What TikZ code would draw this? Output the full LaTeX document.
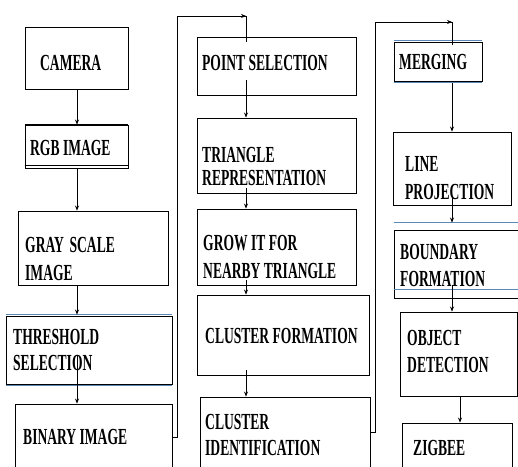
\documentclass[tikz,border=0pt]{standalone}
\usepackage{fontspec}
\newfontfamily\lblfont{Liberation Serif}[FakeStretch=0.59]
\usetikzlibrary{arrows.meta,calc}
\definecolor{lineblue}{HTML}{5B86B8}
\newcommand{\mybox}[5]{\node[boxst, minimum width={#4-#2}, minimum height={#5-#3}] (#1) at ({(#2+#4)/2},{(#3+#5)/2}) {};}
\begin{document}
\begin{tikzpicture}[x=1pt,y=-1pt,
  boxst/.style={draw=black, line width=0.9pt, inner sep=0pt, rectangle},
  txt/.style={anchor=north west, inner sep=0pt, align=left, font=\lblfont\bfseries\fontsize{23}{27}\selectfont},
  arr/.style={draw=black, line width=0.7pt, -{Stealth[length=5pt,width=4pt]}},
  ln/.style={draw=black, line width=0.7pt},
  blue/.style={draw=lineblue, line width=1.2pt}]
\useasboundingbox (0,0) rectangle (518,466);
\clip (0,0) rectangle (518,466);
% column 1
\mybox{camera}{25}{27}{128}{89}
\mybox{rgb}{25}{125}{128}{168}
\mybox{gray}{18}{211}{168}{285}
\mybox{thresh}{6}{316}{172}{384}
\mybox{binary}{15}{404}{172}{470}
% column 2
\mybox{pointsel}{197}{37}{356}{95}
\mybox{triangle}{197}{118}{356}{193}
\mybox{grow}{197}{209}{356}{285}
\mybox{clform}{197}{295}{369}{375}
\mybox{clid}{200}{397}{370}{467}
% column 3
\mybox{merging}{394}{42}{482}{81}
\mybox{lineproj}{393}{132}{511}{205}
\mybox{boundary}{394}{230}{522}{298}
\mybox{objdet}{400}{312}{517}{396}
\mybox{zigbee}{402}{423}{512}{480}
% decorations of box borders
\draw[line width=2pt] (rgb.north west) -- (rgb.north east);
\draw[ln] ($(rgb.south west)+(0,-3)$) -- ($(rgb.south east)+(0,-3)$);
\draw[blue] ($(thresh.north west)+(0,-1.2)$) -- ($(thresh.north east)+(0,-1.2)$);
\draw[blue] ($(thresh.south west)+(0,1.2)$) -- ($(thresh.south east)+(0,1.2)$);
\draw[blue] ($(merging.north west)+(0,-1.2)$) -- ($(merging.north east)+(0,-1.2)$);
\draw[blue] ($(merging.south west)+(0,1.2)$) -- ($(merging.south east)+(0,1.2)$);
\draw[blue] ($(boundary.north west)+(0,-7)$) -- ($(boundary.north east)+(0,-7)$);
\draw[blue] ($(boundary.south west)+(0,-9)$) -- ($(boundary.south east)+(0,-9)$);
% labels
\node[txt] (tcamera) at (40,55) {CAMERA};
\node[txt] (trgb) at (30,140) {RGB IMAGE};
\node[txt] (tgray) at (25,237) {GRAY\hspace{0.25em}SCALE\\[1pt]IMAGE};
\node[txt] (tthresh) at (13,329) {THRESHOLD\\[-1pt]SELECTION};
\node[txt] (tbinary) at (23,429) {BINARY IMAGE};
\node[txt] (tpointsel) at (202,55) {POINT SELECTION};
\node[txt] (ttriangle) at (202,147) {TRIANGLE\\[-4pt]REPRESENTATION};
\node[txt] (tgrow) at (203,235) {GROW IT FOR\\[1pt]NEARBY TRIANGLE};
\node[txt] (tclform) at (205,328) {CLUSTER FORMATION};
\node[txt] (tclid) at (205,414) {CLUSTER\\[-1pt]IDENTIFICATION};
\node[txt] (tmerging) at (399,54) {MERGING};
\node[txt] (tlineproj) at (405,156) {LINE\\[1pt]PROJECTION};
\node[txt] (tboundary) at (400,244) {BOUNDARY\\FORMATION};
\node[txt] (tobjdet) at (407,330) {OBJECT\\DETECTION};
\node[txt] (tzigbee) at (413,440) {ZIGBEE};
% arrow x positions
\coordinate (ax1) at (77,0);
\coordinate (ax2) at (246,0);
\coordinate (ax3) at (452,0);
\coordinate (ax4) at (460,0);
% column 1 arrows
\draw[arr] (camera.south -| ax1) -- (rgb.north -| ax1);
\draw[arr] (rgb.south -| ax1) -- (gray.north -| ax1);
\draw[arr] (gray.south -| ax1) -- ($(thresh.north -| ax1)+(0,-1)$);
\draw[arr] ($(thresh.center -| ax1)+(0,5)$) -- (binary.north -| ax1);
% link column 1 -> column 2
\coordinate (l1a) at (177,437);
\coordinate (l1b) at (177,16);
\coordinate (l1c) at (246,16);
\draw[ln] (binary.east |- l1a) -- (l1a) -- (l1b) -- (l1c);
\draw[arr] (l1b) -- (l1c);
\draw[ln] (l1c) -- ($(pointsel.north -| ax2)+(0,5)$);
% column 2 arrows
\draw[arr] ($(pointsel.south -| ax2)+(0,-15)$) -- (triangle.north -| ax2);
\draw[arr] ($(triangle.south -| ax2)+(0,-5)$) -- (grow.north -| ax2);
\draw[arr] ($(grow.south -| ax2)+(0,-5)$) -- (clform.north -| ax2);
\draw[arr] ($(clform.south -| ax2)+(0,-5)$) -- (clid.north -| ax2);
% link column 2 -> column 3
\coordinate (l2a) at (375,432);
\coordinate (l2b) at (375,22);
\coordinate (l2c) at (452,22);
\draw[ln] (clid.east |- l2a) -- (l2a) -- (l2b) -- (l2c);
\draw[arr] (l2b) -- (l2c);
\draw[ln] (l2c) -- ($(merging.north -| ax3)+(0,3)$);
% column 3 arrows
\draw[arr] ($(merging.south -| ax3)+(0,2)$) -- (lineproj.north -| ax3);
\draw[arr] ($(lineproj.south -| ax3)+(0,-8)$) -- ($(boundary.north -| ax3)+(0,-7)$);
\draw[arr] ($(boundary.south -| ax3)+(0,-13)$) -- (objdet.north -| ax3);
\draw[arr] (objdet.south -| ax4) -- (zigbee.north -| ax4);
\end{tikzpicture}
\end{document}
